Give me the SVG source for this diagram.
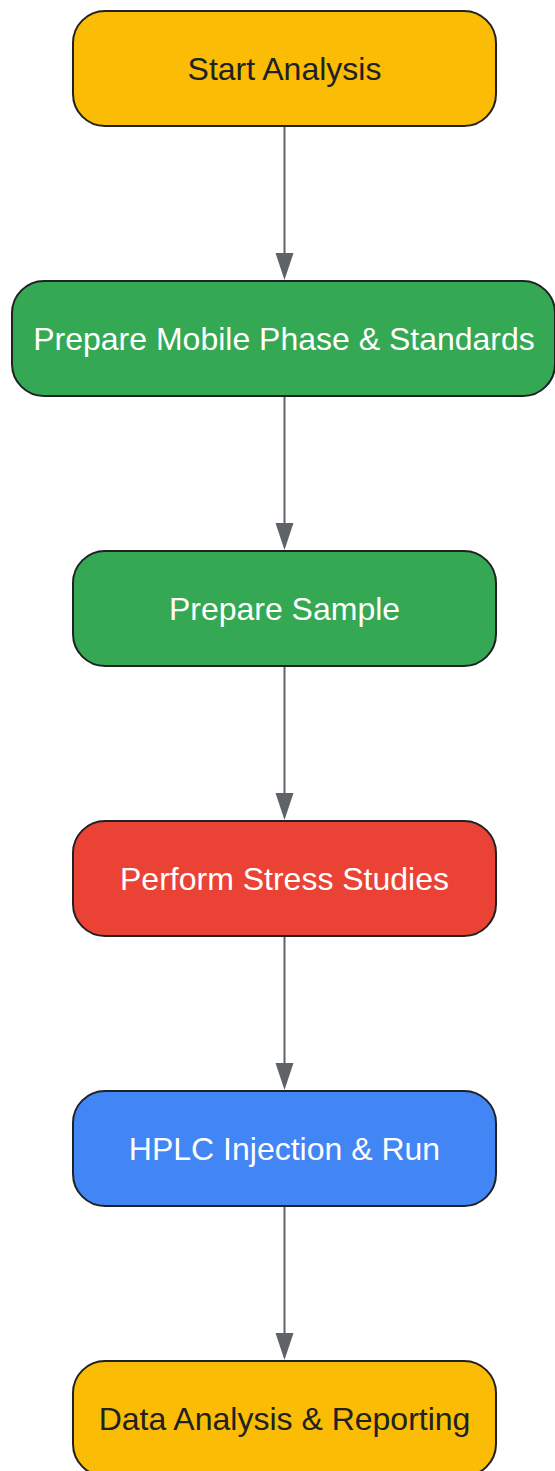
<svg xmlns="http://www.w3.org/2000/svg" width="555" height="1471" viewBox="0 0 555 1471">
<defs>
<style>
.n rect{stroke:#202124;stroke-width:2}
.n text{font-family:"Liberation Sans",Arial,sans-serif;font-size:32px;text-anchor:middle}
.y rect{fill:#FBBC05}.y text{fill:#202124}
.g rect{fill:#34A853}.r rect{fill:#EA4335}.b rect{fill:#4285F4}
.w text{fill:#ffffff}
.e{stroke:#5f6368;stroke-width:2;fill:none}
.ah{fill:#5f6368}
</style>
</defs>
<rect width="555" height="1471" fill="#ffffff"/>
<g id="edges">
<line class="e" x1="284.5" y1="126" x2="284.5" y2="256"/><path class="ah" d="M275.5,253 L293.5,253 L284.5,280 Z"/>
<line class="e" x1="284.5" y1="396" x2="284.5" y2="526"/><path class="ah" d="M275.5,523 L293.5,523 L284.5,550 Z"/>
<line class="e" x1="284.5" y1="666" x2="284.5" y2="796"/><path class="ah" d="M275.5,793 L293.5,793 L284.5,820 Z"/>
<line class="e" x1="284.5" y1="936" x2="284.5" y2="1066"/><path class="ah" d="M275.5,1063 L293.5,1063 L284.5,1090 Z"/>
<line class="e" x1="284.5" y1="1206" x2="284.5" y2="1336"/><path class="ah" d="M275.5,1333 L293.5,1333 L284.5,1360 Z"/>
</g>
<g id="start" class="n y"><rect x="73" y="11" width="423" height="115" rx="32"/><text x="284.5" y="80">Start Analysis</text></g>
<g id="prep_mobile" class="n g w"><rect x="12" y="281" width="543" height="115" rx="32"/><text x="284" y="350">Prepare Mobile Phase &amp; Standards</text></g>
<g id="prep_sample" class="n g w"><rect x="73" y="551" width="423" height="115" rx="32"/><text x="284.5" y="620">Prepare Sample</text></g>
<g id="stress" class="n r w"><rect x="73" y="821" width="423" height="115" rx="32"/><text x="284.5" y="890">Perform Stress Studies</text></g>
<g id="hplc" class="n b w"><rect x="73" y="1091" width="423" height="115" rx="32"/><text x="284.5" y="1160">HPLC Injection &amp; Run</text></g>
<g id="report" class="n y"><rect x="73" y="1361" width="423" height="115" rx="32"/><text x="284.5" y="1430">Data Analysis &amp; Reporting</text></g>
</svg>
